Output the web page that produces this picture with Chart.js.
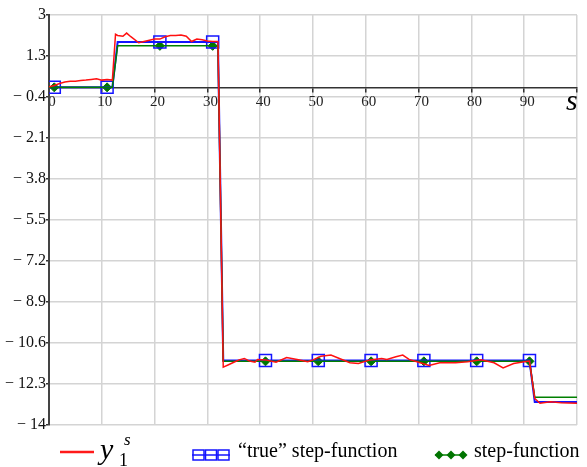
<!DOCTYPE html>
<html lang="en">
<head>
<meta charset="UTF-8">
<title>step-function</title>
<script src="https://cdn.jsdelivr.net/npm/chart.js@4/dist/chart.umd.min.js"></script>
<style>
  body { margin: 0; background: #fff; }
</style>
</head>
<body>
<canvas id="chart" width="587" height="467"></canvas>
<script>
// tick labels
var yTicks = [-14, -12.3, -10.6, -8.9, -7.2, -5.5, -3.8, -2.1, -0.4, 1.3, 3]

// y1s (noisy signal)
var redX = [0, 1, 2, 3, 4, 5, 6, 7, 8, 9, 10, 11, 12, 12.6, 13, 14, 14.7, 15.5, 17, 18, 19, 20, 21, 22, 23, 24, 25, 26, 27, 28, 29, 30, 31, 32,
            33, 34, 35, 36, 37, 38, 39, 39.5, 41, 43, 45, 47, 49, 50, 51.5, 53.4, 55, 57, 58.6, 60.8, 63, 64, 65.7, 67, 68.2, 70, 72, 74, 77, 79.3, 81.8, 84.3, 86, 88, 90, 91,
            92, 93, 95, 97, 100]
var redY = [0.02, 0.08, 0.16, 0.22, 0.25, 0.25, 0.28, 0.3, 0.33, 0.36, 0.3, 0.33, 0.3, 2.2, 2.15, 2.12, 2.25, 2.1, 1.85, 1.9, 1.95, 2.0, 2.0, 2.1, 2.15, 2.15, 2.17, 2.12, 1.9, 2.0, 1.97, 1.92, 1.9, 1.9,
            -11.6, -11.5, -11.4, -11.3, -11.24, -11.35, -11.4, -11.28, -11.3, -11.4, -11.2, -11.28, -11.38, -11.3, -11.15, -11.1, -11.24, -11.42, -11.45, -11.3, -11.24, -11.28, -11.17, -11.1, -11.28, -11.4, -11.53, -11.42, -11.42, -11.38, -11.3, -11.42, -11.63, -11.45, -11.38, -11.35,
            -12.9, -13.1, -13.04, -13.08, -13.1]

// "true" step-function
var trueX = [0, 12, 13, 32, 33, 91, 92, 100]
var trueY = [0, 0, 1.88, 1.88, -11.33, -11.33, -13.05, -13.05]

// estimated step-function
var estX = [0, 12, 13, 32, 33, 91, 92, 100]
var estY = [0, 0, 1.72, 1.72, -11.36, -11.36, -12.85, -12.85]

// symbol positions
var markX = [1, 11, 21, 31, 41, 51, 61, 71, 81, 91]
var trueMarkY = [0, 0, 1.88, 1.88, -11.33, -11.33, -11.33, -11.33, -11.33, -11.33]
var estMarkY = [0, 0, 1.72, 1.72, -11.36, -11.36, -11.36, -11.36, -11.36, -11.36]

function pts(xs, ys) {
    return xs.map(function (x, i) { return { x: x, y: ys[i] } })
}

var serif = "'Liberation Serif', 'DejaVu Serif', serif"

function fmt(v) {
    if (v < 0) return "\u2212 " + String(Math.abs(v))
    return String(v)
}

var extras = {
    id: "extras",
    afterDraw: function (chart) {
        var ctx = chart.ctx
        var ys = chart.scales.y
        ctx.save()
        // axis letter
        ctx.fillStyle = "#000"
        ctx.font = "italic 30px " + serif
        ctx.textBaseline = "alphabetic"
        ctx.fillText("s", 566, ys.getPixelForValue(0) + 23)

        // legend
        var ly = 455
        ctx.strokeStyle = "#ff1a1a"
        ctx.lineWidth = 2.5
        ctx.beginPath(); ctx.moveTo(60, ly - 3); ctx.lineTo(94, ly - 3); ctx.stroke()
        ctx.font = "italic 30px " + serif
        ctx.fillText("y", 100, 459)
        ctx.font = "18px " + serif
        ctx.fillText("1", 119, 466)
        ctx.font = "italic 17px " + serif
        ctx.fillText("s", 124, 445)

        ctx.strokeStyle = "#1414ff"
        ctx.lineWidth = 1.5
        ctx.beginPath(); ctx.moveTo(192, ly); ctx.lineTo(230, ly); ctx.stroke()
        for (var i = 0; i < 3; i++) {
            ctx.strokeRect(193 + i * 12.5, ly - 5, 11, 10)
        }
        ctx.fillStyle = "#000"
        ctx.font = "20px " + serif
        ctx.fillText("\u201Ctrue\u201D step-function", 238, 457)

        ctx.strokeStyle = "#008000"
        ctx.lineWidth = 1.5
        ctx.beginPath(); ctx.moveTo(435, ly); ctx.lineTo(466, ly); ctx.stroke()
        ctx.fillStyle = "#007400"
        for (var j = 0; j < 3; j++) {
            var cx = 439 + j * 12
            ctx.beginPath()
            ctx.moveTo(cx, ly - 4.5); ctx.lineTo(cx + 4.5, ly); ctx.lineTo(cx, ly + 4.5); ctx.lineTo(cx - 4.5, ly)
            ctx.closePath(); ctx.fill()
        }
        ctx.fillStyle = "#000"
        ctx.fillText("step-function", 474, 457)
        ctx.restore()
    }
}

var chart_data = {
    type: "line",
    data: {
        datasets: [
            {
                label: "y1s",
                data: pts(redX, redY),
                borderColor: "#ff1010",
                borderWidth: 1.5,
                pointRadius: 0,
                fill: false,
                tension: 0
            },
            {
                label: "step-function",
                data: pts(estX, estY),
                borderColor: "#008000",
                borderWidth: 1.5,
                pointRadius: 0,
                fill: false,
                tension: 0
            },
            {
                label: "\u201Ctrue\u201D step-function",
                data: pts(trueX, trueY),
                borderColor: "#1414ff",
                borderWidth: 2,
                pointRadius: 0,
                fill: false,
                tension: 0
            },
            {
                label: "true marks",
                data: pts(markX, trueMarkY),
                showLine: false,
                pointStyle: "rect",
                pointRadius: 8.5,
                pointBorderColor: "#1414ff",
                pointBackgroundColor: "rgba(0,0,0,0)",
                pointBorderWidth: 1.5
            },
            {
                label: "est marks",
                data: pts(markX, estMarkY),
                showLine: false,
                pointStyle: "rectRot",
                pointRadius: 4.5,
                pointBorderColor: "#007400",
                pointBackgroundColor: "#007400",
                pointBorderWidth: 1
            }
        ]
    },
    options: {
        responsive: false,
        animation: false,
        events: [],
        layout: { padding: { top: 15, right: 0, bottom: 42, left: 0 } },
        plugins: {
            legend: { display: false },
            tooltip: { enabled: false }
        },
        scales: {
            x: {
                type: "linear",
                position: { y: 0 },
                min: 0,
                max: 100,
                grid: { color: "#d4d4d4", lineWidth: 1.5, tickColor: "#333", tickLength: 4 },
                border: { color: "#333", width: 1.5 },
                ticks: {
                    stepSize: 10,
                    maxRotation: 0,
                    labelOffset: 3,
                    padding: 2,
                    color: "#222",
                    font: { family: serif, size: 15 },
                    callback: function (v) { return v >= 100 ? "" : String(v) }
                }
            },
            y: {
                type: "linear",
                position: "left",
                min: -14,
                max: 3,
                afterBuildTicks: function (scale) {
                    scale.ticks = yTicks.map(function (v) { return { value: v } })
                },
                afterFit: function (scale) { scale.width = 49 },
                grid: { color: "#d4d4d4", lineWidth: 1.5, tickColor: "#333", tickLength: 3 },
                border: { color: "#444", width: 2 },
                ticks: {
                    padding: 0,
                    color: "#111",
                    font: { family: serif, size: 16 },
                    callback: function (v) { return fmt(v) }
                }
            }
        }
    },
    plugins: [extras]
}

window.addEventListener("load", function () {
    new Chart(document.getElementById("chart"), chart_data)
})
</script>
</body>
</html>
